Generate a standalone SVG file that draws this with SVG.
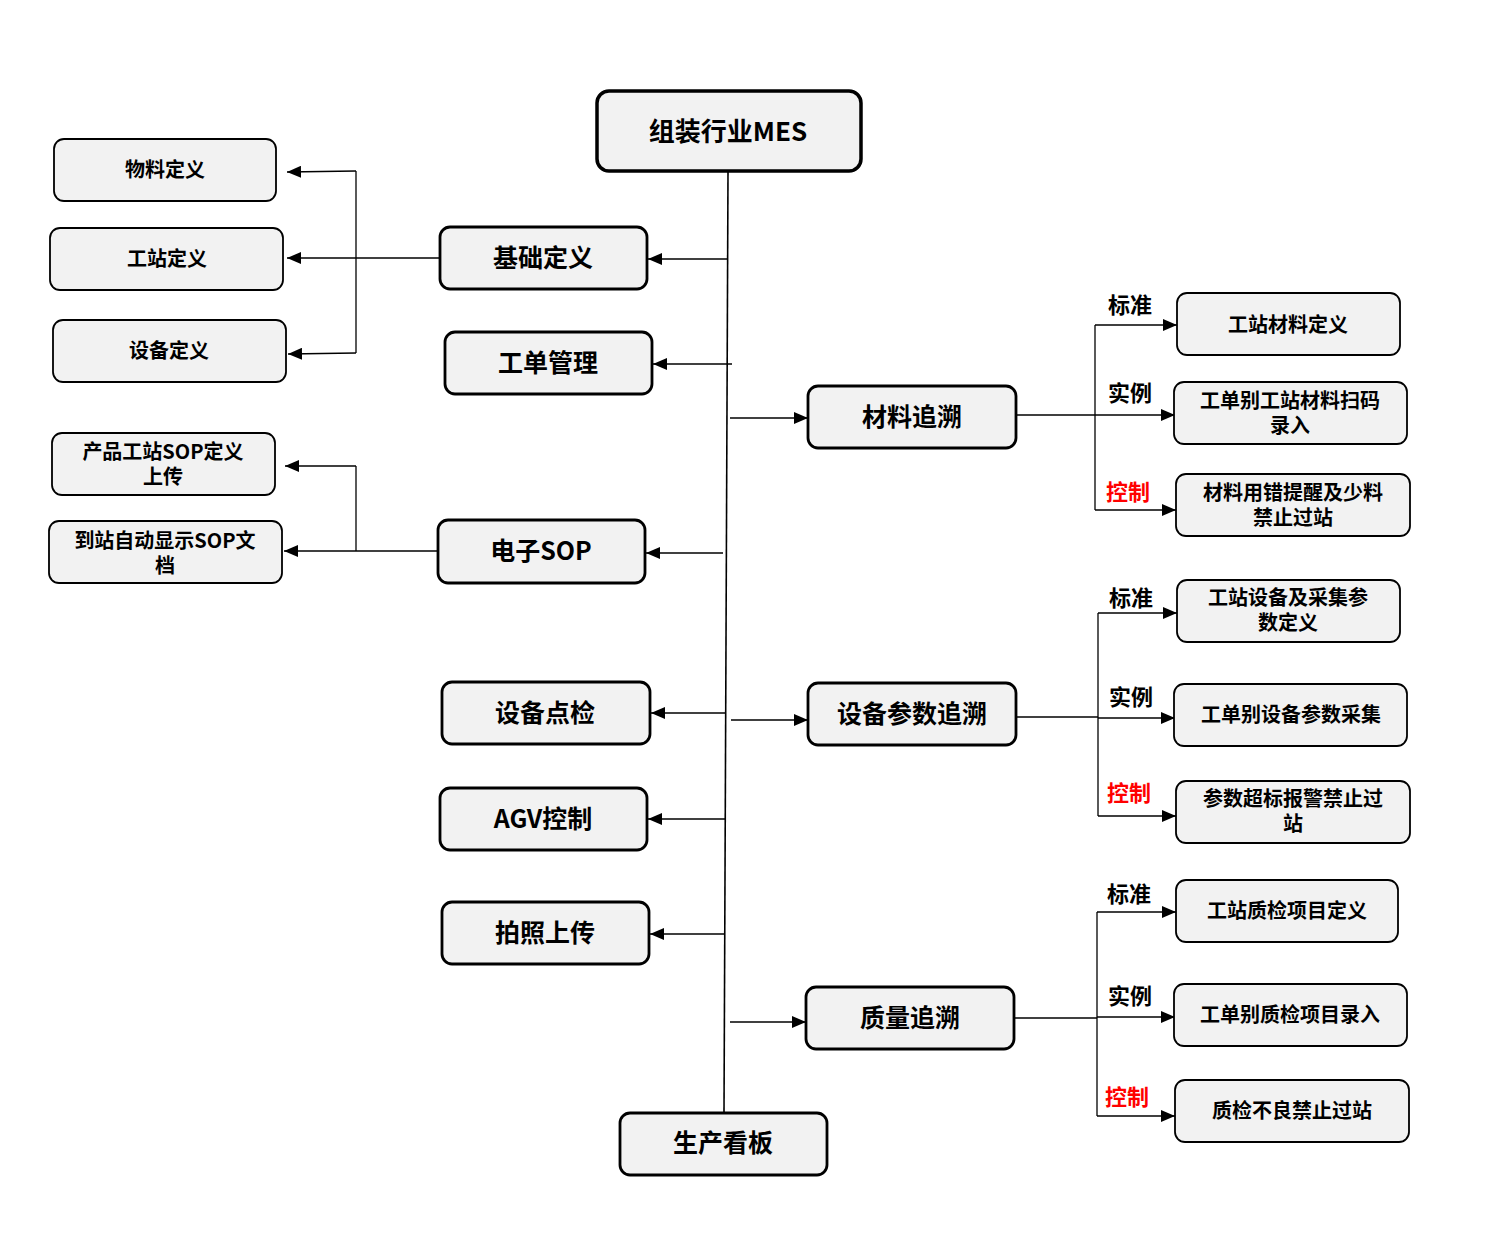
<svg xmlns="http://www.w3.org/2000/svg" width="1489" height="1260" viewBox="0 0 1489 1260">
<style>
text{font-family:"Noto Sans CJK SC","Noto Sans",sans-serif;font-weight:bold;fill:#000;text-anchor:middle;dominant-baseline:central}
.top rect{fill:#f2f2f2;stroke:#000;stroke-width:3.5}
.l2 rect{fill:#f2f2f2;stroke:#000;stroke-width:2.8}
.l3 rect{fill:#f2f2f2;stroke:#000;stroke-width:1.8}
.top text{font-size:26px}
.l2 text{font-size:25px}
.l3 text{font-size:20px}
.lbl{font-size:22px}
.red{fill:#ff0000}
.c line{stroke:#000;stroke-width:1.3;fill:none}
.c .arr{marker-end:url(#ah)}
</style>
<defs>
<marker id="ah" viewBox="0 0 14 12" refX="14" refY="6" markerWidth="14" markerHeight="12" markerUnits="userSpaceOnUse" orient="auto">
<path d="M0,0 L14,6 L0,12 z" fill="#000"/>
</marker>
</defs>
<g class="c" id="connectors">
<line x1="728" y1="172" x2="724" y2="1112" style="stroke-width:1.6"/>
<line class="arr" x1="727" y1="259" x2="648" y2="259"/>
<line class="arr" x1="732" y1="364" x2="653" y2="364"/>
<line class="arr" x1="723" y1="553" x2="646" y2="553"/>
<line class="arr" x1="726" y1="713" x2="651" y2="713"/>
<line class="arr" x1="725" y1="819" x2="648" y2="819"/>
<line class="arr" x1="725" y1="934" x2="650" y2="934"/>
<line class="arr" x1="730" y1="418" x2="808" y2="418"/>
<line class="arr" x1="731" y1="720" x2="808" y2="720"/>
<line class="arr" x1="730" y1="1022" x2="806" y2="1022"/>
<line x1="440" y1="258" x2="356" y2="258"/>
<line x1="356" y1="171" x2="356" y2="353"/>
<line class="arr" x1="356" y1="171" x2="287" y2="172"/>
<line class="arr" x1="356" y1="258" x2="287" y2="258"/>
<line class="arr" x1="356" y1="353" x2="288" y2="354"/>
<line x1="438" y1="551" x2="356" y2="551"/>
<line x1="356" y1="466" x2="356" y2="551"/>
<line class="arr" x1="356" y1="466" x2="285" y2="466"/>
<line class="arr" x1="356" y1="551" x2="284" y2="551"/>
<line x1="1016" y1="415" x2="1095" y2="415"/>
<line x1="1095" y1="325" x2="1095" y2="510"/>
<line class="arr" x1="1095" y1="325" x2="1177" y2="325"/>
<line class="arr" x1="1095" y1="415" x2="1175" y2="415"/>
<line class="arr" x1="1095" y1="510" x2="1176" y2="510"/>
<line x1="1016" y1="717" x2="1098" y2="717"/>
<line x1="1098" y1="613" x2="1098" y2="816"/>
<line class="arr" x1="1098" y1="613" x2="1177" y2="613"/>
<line class="arr" x1="1098" y1="718" x2="1175" y2="718"/>
<line class="arr" x1="1098" y1="816" x2="1176" y2="816"/>
<line x1="1014" y1="1018" x2="1097" y2="1018"/>
<line x1="1097" y1="912" x2="1097" y2="1116"/>
<line class="arr" x1="1097" y1="912" x2="1176" y2="912"/>
<line class="arr" x1="1097" y1="1017" x2="1175" y2="1017"/>
<line class="arr" x1="1097" y1="1116" x2="1175" y2="1116"/>
</g>
<g class="top" id="n-mes"><rect x="597" y="91" width="264" height="80" rx="12"/><text x="728" y="129">组装行业MES</text></g>
<g class="l2" id="n-jcdy"><rect x="440" y="227" width="207" height="62" rx="10"/><text x="543" y="256">基础定义</text></g>
<g class="l2" id="n-gdgl"><rect x="445" y="332" width="207" height="62" rx="10"/><text x="548" y="361">工单管理</text></g>
<g class="l2" id="n-dzsop"><rect x="438" y="520" width="207" height="63" rx="10"/><text x="541" y="549">电子SOP</text></g>
<g class="l2" id="n-sbdj"><rect x="442" y="682" width="208" height="62" rx="10"/><text x="545" y="711">设备点检</text></g>
<g class="l2" id="n-agv"><rect x="440" y="788" width="207" height="62" rx="10"/><text x="543" y="817">AGV控制</text></g>
<g class="l2" id="n-pzsc"><rect x="442" y="902" width="207" height="62" rx="10"/><text x="545" y="931">拍照上传</text></g>
<g class="l2" id="n-sckb"><rect x="620" y="1113" width="207" height="62" rx="10"/><text x="723" y="1141">生产看板</text></g>
<g class="l2" id="n-clzs"><rect x="808" y="386" width="208" height="62" rx="10"/><text x="912" y="415">材料追溯</text></g>
<g class="l2" id="n-sbcs"><rect x="808" y="683" width="208" height="62" rx="10"/><text x="912" y="712">设备参数追溯</text></g>
<g class="l2" id="n-zlzs"><rect x="806" y="987" width="208" height="62" rx="10"/><text x="910" y="1016">质量追溯</text></g>
<g class="l3" id="n-wldy"><rect x="54" y="139" width="222" height="62" rx="10"/><text x="165" y="168">物料定义</text></g>
<g class="l3" id="n-gzdy"><rect x="50" y="228" width="233" height="62" rx="10"/><text x="167" y="257">工站定义</text></g>
<g class="l3" id="n-sbdy"><rect x="53" y="320" width="233" height="62" rx="10"/><text x="169" y="349">设备定义</text></g>
<g class="l3" id="n-cpsop"><rect x="52" y="433" width="223" height="62" rx="10"/><text x="163" y="450">产品工站SOP定义<tspan x="163" dy="25">上传</tspan></text></g>
<g class="l3" id="n-dzxs"><rect x="49" y="521" width="233" height="62" rx="10"/><text x="165" y="539">到站自动显示SOP文<tspan x="165" dy="25">档</tspan></text></g>
<g class="l3" id="n-gzcl"><rect x="1177" y="293" width="223" height="62" rx="10"/><text x="1288" y="323">工站材料定义</text></g>
<g class="l3" id="n-gdsm"><rect x="1174" y="382" width="233" height="62" rx="10"/><text x="1290" y="399">工单别工站材料扫码<tspan x="1290" dy="25">录入</tspan></text></g>
<g class="l3" id="n-clyc"><rect x="1176" y="474" width="234" height="62" rx="10"/><text x="1293" y="491">材料用错提醒及少料<tspan x="1293" dy="25">禁止过站</tspan></text></g>
<g class="l3" id="n-gzsb"><rect x="1177" y="580" width="223" height="62" rx="10"/><text x="1288" y="596">工站设备及采集参<tspan x="1288" dy="25">数定义</tspan></text></g>
<g class="l3" id="n-gdsb"><rect x="1174" y="684" width="233" height="62" rx="10"/><text x="1291" y="713">工单别设备参数采集</text></g>
<g class="l3" id="n-cscb"><rect x="1176" y="781" width="234" height="62" rx="10"/><text x="1293" y="797">参数超标报警禁止过<tspan x="1293" dy="25">站</tspan></text></g>
<g class="l3" id="n-gzzj"><rect x="1176" y="880" width="222" height="62" rx="10"/><text x="1287" y="909">工站质检项目定义</text></g>
<g class="l3" id="n-gdzj"><rect x="1174" y="984" width="233" height="62" rx="10"/><text x="1290" y="1013">工单别质检项目录入</text></g>
<g class="l3" id="n-zjbl"><rect x="1175" y="1080" width="234" height="62" rx="10"/><text x="1292" y="1109">质检不良禁止过站</text></g>
<g id="labels">
<text class="lbl" x="1130" y="303">标准</text>
<text class="lbl" x="1130" y="391">实例</text>
<text class="lbl red" x="1128" y="490">控制</text>
<text class="lbl" x="1131" y="596">标准</text>
<text class="lbl" x="1131" y="695">实例</text>
<text class="lbl red" x="1129" y="791">控制</text>
<text class="lbl" x="1129" y="892">标准</text>
<text class="lbl" x="1130" y="994">实例</text>
<text class="lbl red" x="1127" y="1095">控制</text>
</g>
</svg>
